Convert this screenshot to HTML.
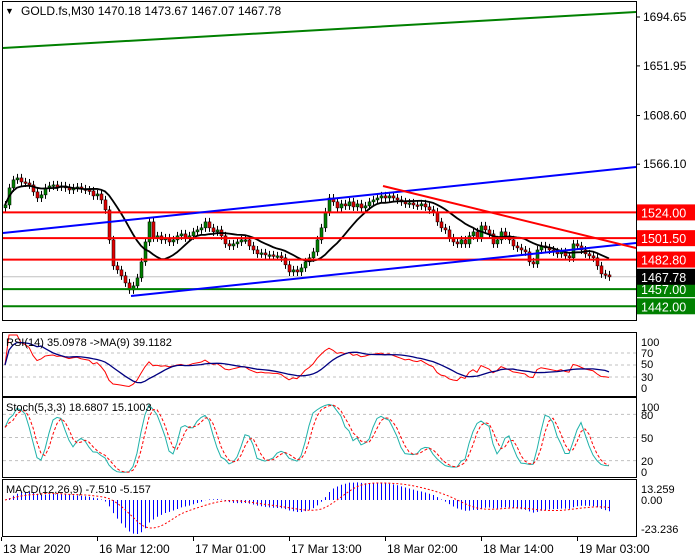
<!DOCTYPE html>
<html><head><meta charset="utf-8">
<style>
html,body{margin:0;padding:0;background:#fff;}
svg{display:block;font-family:"Liberation Sans",Tahoma,sans-serif;}
</style></head>
<body>
<svg id="c" width="700" height="560" viewBox="0 0 700 560" xmlns="http://www.w3.org/2000/svg">
</svg>
<script>
// ---- data ----
const closes = [1530.5,1545.4,1552.4,1554.1,1550.6,1549.7,1548.0,1541.9,1536.6,1539.3,
1545.4,1547.1,1548.0,1546.2,1547.1,1545.4,1543.6,1545.4,1546.2,1544.5,
1543.6,1542.8,1538.4,1540.1,1534.9,1526.2,1500.0,1477.3,1473.8,1468.6,
1462.4,1456.3,1459.8,1466.8,1480.8,1498.2,1515.7,1501.7,1503.5,1500.0,
1501.7,1498.2,1500.0,1503.5,1505.2,1501.7,1503.5,1507.0,1508.7,1510.5,
1515.7,1510.5,1507.0,1508.7,1503.5,1496.5,1494.7,1496.5,1498.2,1500.0,
1500.0,1494.7,1491.2,1487.8,1488.6,1486.9,1486.9,1486.0,1486.0,1484.3,
1478.2,1472.0,1473.8,1472.0,1475.5,1480.8,1484.3,1489.5,1500.0,1510.5,
1524.4,1536.6,1533.2,1527.9,1531.4,1529.7,1533.2,1528.8,1531.4,1527.9,
1529.7,1533.2,1534.9,1536.6,1538.4,1536.6,1538.4,1536.6,1534.9,1533.2,
1531.4,1532.3,1530.5,1529.7,1531.4,1528.8,1526.2,1524.4,1515.7,1510.5,
1508.7,1501.7,1498.2,1496.5,1500.0,1496.5,1503.5,1507.0,1501.7,1512.2,
1508.7,1505.2,1496.5,1500.0,1507.0,1503.5,1500.0,1494.7,1493.0,1491.2,
1489.5,1480.8,1479.0,1491.2,1494.7,1493.0,1491.2,1489.5,1487.8,1489.5,
1486.0,1484.3,1496.5,1494.7,1491.2,1487.8,1486.0,1484.3,1477.3,1470.3,
1469.4,1467.7];
const firstOpen = 1528.0;
const wick = 3.5;
const levelsRed = [1524.00,1501.50,1482.80];
const levelsGreen = [1457.00,1442.00];
const lastPrice = 1467.78;
const priceTicks = [1694.65,1651.95,1608.60,1566.10];
const timeLabels = ["13 Mar 2020","16 Mar 12:00","17 Mar 01:00","17 Mar 13:00","18 Mar 02:00","18 Mar 14:00","19 Mar 03:00"];
const timeLabelBars = [-1,23,47,71,95,119,143];
const rsiTicks = [100,70,50,30,0];
const stochTicks = [100,80,50,20,0];

// ---- scales ----
const NS="http://www.w3.org/2000/svg";
const svg=document.getElementById('c');
const bx=i=>5+4*i;
const py=p=>17+(1694.65-p)*1.145;
const rsiY=v=>395-0.6*v;
const stY=v=>476-0.77*v;
const mY=v=>500-1.6*v;
function el(tag,attrs,parent){const e=document.createElementNS(NS,tag);for(const k in attrs)e.setAttribute(k,attrs[k]);(parent||svg).appendChild(e);return e;}
function txt(s,x,y,attrs,parent){const t=el('text',Object.assign({x:x,y:y,'font-size':12,fill:'#000'},attrs||{}),parent);t.textContent=s;return t;}

const panels=[[2,1,634,319,'main-panel'],[2,332,634,64,'rsi-panel'],[2,397,634,80,'stoch-panel'],[2,479,634,57,'macd-panel']];
panels.forEach(p=>{const r=el('rect',{x:p[0]+.5,y:p[1]+.5,width:p[2],height:p[3],fill:'#fff',stroke:'#000','stroke-width':1});

});

const g=el('g',{});



let l=el('line',{x1:3,x2:636,y1:py(lastPrice),y2:py(lastPrice),stroke:'#c0c0c0','stroke-width':1},g);



const opens=[],highs=[],lows=[];
closes.forEach((c,i)=>{const o=i===0?firstOpen:closes[i-1];opens.push(o);highs.push(Math.max(o,c)+wick);lows.push(Math.min(o,c)-wick);});
closes.forEach((c,i)=>{
  const x=bx(i),o=opens[i];
  const cg=el('g',{},g);
  
  
  el('line',{x1:x+.5,x2:x+.5,y1:py(highs[i]),y2:py(lows[i]),stroke:'#000','stroke-width':1},cg);
  const top=py(Math.max(o,c)),h=Math.max(1.5,py(Math.min(o,c))-top);
  el('rect',{x:x-1,y:top,width:3,height:h,fill:c>=o?'#008000':'#e00000',stroke:'#000','stroke-width':0.5},cg);
});

function sma(a,n){return a.map((v,i)=>{const s=a.slice(Math.max(0,i-n+1),i+1);return s.reduce((x,y)=>x+y,0)/s.length;});}
const ma=sma(closes,14);
let ml=el('polyline',{points:ma.map((v,i)=>bx(i)+','+py(v)).join(' '),fill:'none',stroke:'#000','stroke-width':1.8},g);



levelsRed.forEach(v=>{const e=el('line',{x1:3,x2:636,y1:py(v),y2:py(v),stroke:'#ff0000','stroke-width':2},g);

});
levelsGreen.forEach(v=>{const e=el('line',{x1:3,x2:636,y1:py(v),y2:py(v),stroke:'#008000','stroke-width':2},g);

});

const tl=[[3,48,636,12,'#008000','green-trendline'],[3,233,636,167,'#0000ff','upper-channel-line'],[131,296,636,243,'#0000ff','lower-channel-line'],[383,186,636,248,'#ff0000','descending-trendline']];
tl.forEach(t=>{const e=el('line',{x1:t[0],y1:t[1],x2:t[2],y2:t[3],stroke:t[4],'stroke-width':2},g);

});

let tt=txt('▼',5,14,{'font-size':9});


let ti=txt('GOLD.fs,M30  1470.18 1473.67 1467.07 1467.78',21,15,{'font-size':12});



priceTicks.forEach(v=>{const y=py(v);el('line',{x1:636,x2:640,y1:y,y2:y,stroke:'#000'});
const t=txt(v.toFixed(2),643,y+4);

});
function tag(v,bg,y,name){const r=el('rect',{x:637,y:y-8,width:58,height:16,fill:bg});


const t=txt(v.toFixed(2),641,y+5,{fill:'#fff','font-size':12.5});

}
levelsRed.forEach(v=>tag(v,'#ff0000',py(v),'level-price-tag'));
tag(levelsGreen[1],'#008000',py(levelsGreen[1]),'support-price-tag');
tag(levelsGreen[0],'#008000',py(levelsGreen[0]),'support-price-tag');
tag(lastPrice,'#000',py(lastPrice),'last-price-tag');

// ---- RSI ----
function rsi(a,n){const out=[];let ag=0,al=0;for(let i=0;i<a.length;i++){if(i===0){out.push(50);continue;}const d=a[i]-a[i-1];const gn=Math.max(d,0),ls=Math.max(-d,0);const k=Math.min(i,n);ag=(ag*(k-1)+gn)/k;al=(al*(k-1)+ls)/k;out.push(al===0?100:100-100/(1+ag/al));}return out;}
const rsiV=rsi(closes,14);
const rsiMa=sma(rsiV,9);
[70,50,30].forEach(v=>el('line',{x1:3,x2:636,y1:rsiY(v),y2:rsiY(v),stroke:'#c0c0c0','stroke-dasharray':'3,3'}));
let r1=el('polyline',{points:rsiV.map((v,i)=>bx(i)+','+rsiY(v)).join(' '),fill:'none',stroke:'#ff0000','stroke-width':1});


let r2=el('polyline',{points:rsiMa.map((v,i)=>bx(i)+','+rsiY(v)).join(' '),fill:'none',stroke:'#000080','stroke-width':1.3});


let rt=txt('RSI(14) 35.0978  ->MA(9) 39.1182',6,346,{'font-size':11});


const rsiLabY=[346,357,368,381,392];
rsiTicks.forEach((v,i)=>{const t=txt(String(v),641,rsiLabY[i],{'font-size':11});

});

// ---- Stochastic ----
const kRaw=closes.map((c,i)=>{const s=Math.max(0,i-4);const hh=Math.max(...highs.slice(s,i+1)),ll=Math.min(...lows.slice(s,i+1));return hh===ll?50:100*(c-ll)/(hh-ll);});
const kLine=sma(kRaw,3),dLine=sma(kLine,3);
[80,50,20].forEach(v=>el('line',{x1:3,x2:636,y1:stY(v),y2:stY(v),stroke:'#c0c0c0','stroke-dasharray':'3,3'}));
let s1=el('polyline',{points:kLine.map((v,i)=>bx(i)+','+stY(v)).join(' '),fill:'none',stroke:'#20b2aa','stroke-width':1});


let s2=el('polyline',{points:dLine.map((v,i)=>bx(i)+','+stY(v)).join(' '),fill:'none',stroke:'#ff0000','stroke-width':1,'stroke-dasharray':'3,2'});


let st=txt('Stoch(5,3,3) 18.6807 15.1003',6,411,{'font-size':11});


const stLabY=[411,419,442,465,476];
stochTicks.forEach((v,i)=>{const t=txt(String(v),641,stLabY[i],{'font-size':11});

});

// ---- MACD ----
function ema(a,n){const k=2/(n+1);const o=[];a.forEach((v,i)=>o.push(i===0?v:v*k+o[i-1]*(1-k)));return o;}
const e12=ema(closes,12),e26=ema(closes,26);
const macd=e12.map((v,i)=>v-e26[i]);
const sig=sma(macd,9);
macd.forEach((v,i)=>{const b=el('line',{x1:bx(i)+.5,x2:bx(i)+.5,y1:mY(0),y2:mY(v),stroke:'#0000ff','stroke-width':1});

});
let ms=el('polyline',{points:sig.map((v,i)=>bx(i)+','+mY(v)).join(' '),fill:'none',stroke:'#ff0000','stroke-width':1,'stroke-dasharray':'2,2'});


let mt=txt('MACD(12,26,9) -7.510 -5.157',6,493,{'font-size':11});


[['13.259',493],['0.00',504],['-23.236',533]].forEach(a=>{const t=txt(a[0],641,a[1],{'font-size':11});

});

// ---- time axis ----
timeLabels.forEach((s,i)=>{const x=bx(timeLabelBars[i]);el('line',{x1:x+.5,x2:x+.5,y1:537,y2:541,stroke:'#000'});
const t=txt(s,x+2,553,{'font-size':12});

});
</script>
</body></html>
